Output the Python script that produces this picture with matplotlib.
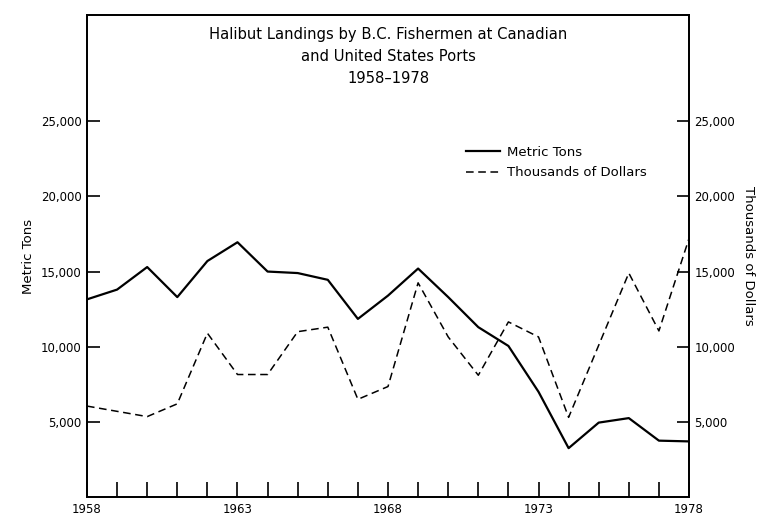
import matplotlib
matplotlib.use("Agg")
import matplotlib.pyplot as plt
from matplotlib.ticker import FuncFormatter

years = list(range(1958, 1979))
metric_tons = [13150, 13800, 15300, 13300, 15700, 16950, 15000, 14900, 14450, 11850,
               13400, 15200, 13300, 11300, 10050, 7000, 3250, 4950, 5250, 3750, 3700]
thousands_dollars = [6050, 5700, 5350, 6200, 10900, 8150, 8150, 11000, 11300, 6500,
                     7350, 14250, 10650, 8100, 11650, 10650, 5300, 10100, 14900, 11050, 17200]
year_labels = [1958, 1963, 1968, 1973, 1978]
y_ticks = [5000, 10000, 15000, 20000, 25000]

title = "Halibut Landings by B.C. Fishermen at Canadian\nand United States Ports\n1958\u20131978"

plt.rcParams["font.family"] = "DejaVu Sans"

fig = plt.figure(figsize=(7.59, 5.24), dpi=100)
ax = fig.add_axes([0.1146, 0.0515, 0.7932, 0.9199])
ax2 = ax.twinx()

l1, = ax.plot(years, metric_tons, color="black", linewidth=1.6, label="Metric Tons")
l2, = ax2.plot(years, thousands_dollars, color="black", linewidth=1.1,
               linestyle=(0, (5, 3)), label="Thousands of Dollars")

fmt = FuncFormatter(lambda v, p: f"{int(v):,}")
for a in (ax, ax2):
    a.set_xlim(1958, 1978)
    a.set_ylim(0, 32070)
    a.set_yticks(y_ticks)
    a.yaxis.set_major_formatter(fmt)
    a.tick_params(axis="y", direction="in", length=9, width=1.2, labelsize=8.5, pad=4)
    for s in a.spines.values():
        s.set_linewidth(1.3)

ax.set_xticks(years, minor=True)
ax.set_xticks(year_labels)
ax.tick_params(axis="x", which="both", direction="in", length=11, width=1.2,
               labelsize=8.5, pad=4)

ax.set_ylabel("Metric Tons", fontsize=9.5, labelpad=4)
ax2.set_ylabel("Thousands of Dollars", fontsize=9.5, rotation=-90, labelpad=14)

ax.text(0.5, 0.975, title, transform=ax.transAxes, ha="center", va="top",
        fontsize=10.6, linespacing=1.6)

ax.legend(handles=[l1, l2], loc="upper left", bbox_to_anchor=(0.61, 0.753),
          frameon=False, fontsize=9.5, handlelength=2.6, handletextpad=0.5,
          labelspacing=0.55)

plt.savefig("out.png", dpi=100)
